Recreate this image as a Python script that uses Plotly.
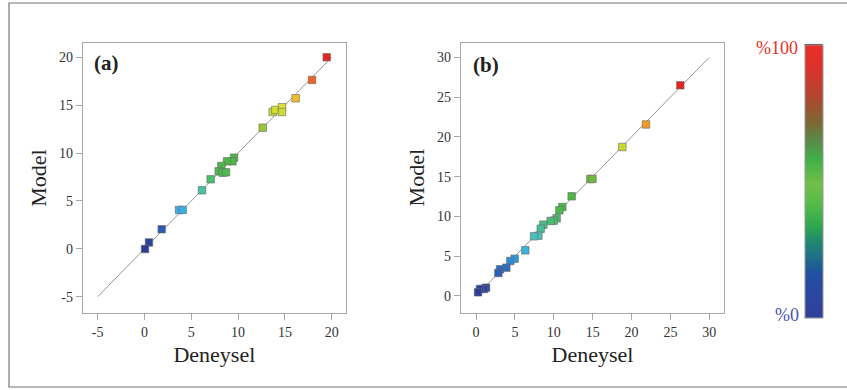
import plotly.graph_objects as go

# Panel (a): experimental vs. model values
deneysel_a = [19.47, 17.90, 16.15, 13.70, 13.98, 14.69, 14.69, 12.63, 9.57, 9.39,
              8.82, 8.21, 7.93, 8.35, 8.71, 7.07, 6.15, 3.69, 4.08, 1.84, 0.48, 0.06]
model_a = [20.00, 17.63, 15.72, 14.29, 14.50, 14.78, 14.29, 12.65, 9.52, 9.14,
           9.14, 8.65, 8.09, 7.95, 7.99, 7.26, 6.11, 4.06, 4.06, 2.04, 0.67, -0.02]

# Panel (b): experimental vs. model values
deneysel_b = [26.27, 21.86, 18.82, 14.70, 14.98, 12.30, 11.10, 10.72, 10.37, 9.99,
              9.60, 8.66, 8.32, 8.02, 7.46, 6.34, 4.97, 4.41, 3.90, 3.09, 2.87,
              1.29, 1.03, 0.51, 0.26]
model_b = [26.48, 21.57, 18.73, 14.70, 14.72, 12.53, 11.19, 10.77, 9.76, 9.47,
           9.43, 8.97, 8.46, 7.58, 7.50, 5.74, 4.69, 4.40, 3.56, 3.35, 2.89,
           1.05, 0.88, 0.88, 0.46]

# Reference y = x lines
line_a = [-5, 20]
line_b = [0, 30]

ticks_a = [-5, 0, 5, 10, 15, 20]
ticklabels_a = ["-5", "0", "5", "10", "15", "20"]
ticks_b = [0, 5, 10, 15, 20, 25, 30]
ticklabels_b = ["0", "5", "10", "15", "20", "25", "30"]

bar_range = [0, 100]
bar_labels = ["%100", "%0"]

W, H = 847, 390

def px_x(p):
    return p / W

def px_y(p):
    return 1 - p / H

rainbow = [
    [0.00, "#2b3a94"], [0.08, "#2e4fa8"], [0.14, "#2f6fc0"], [0.20, "#36aee6"],
    [0.27, "#48c0c8"], [0.33, "#4cbf8a"], [0.40, "#4cb850"], [0.50, "#52b545"],
    [0.58, "#7cbc3c"], [0.66, "#a8cc34"], [0.72, "#d2dc30"], [0.76, "#ece82c"],
    [0.80, "#f2a422"], [0.90, "#ea5524"], [1.00, "#e3261f"],
]

bar_scale = [
    [0.00, "#30409a"], [0.10, "#2a48a0"], [0.16, "#2050a0"], [0.22, "#1e6e88"],
    [0.28, "#208870"], [0.34, "#30a850"], [0.42, "#55bb48"], [0.49, "#70c048"],
    [0.58, "#40b048"], [0.65, "#5a8a48"], [0.71, "#7a6a35"], [0.81, "#b04530"],
    [0.93, "#e03028"], [1.00, "#e8302a"],
]

serif = "Times New Roman, Liberation Serif, serif"
tick_font = dict(family=serif, size=14, color="#333333")
title_font = dict(family=serif, size=22, color="#222222")

fig = go.Figure()

for xs, ys, lx, xa, ya in [
    (deneysel_a, model_a, line_a, "x", "y"),
    (deneysel_b, model_b, line_b, "x2", "y2"),
]:
    fig.add_trace(go.Scatter(
        x=lx, y=lx, mode="lines", xaxis=xa, yaxis=ya,
        line=dict(color="#8a8a8a", width=0.9),
        showlegend=False, hoverinfo="skip",
    ))
    fig.add_trace(go.Scatter(
        x=xs, y=ys, mode="markers", xaxis=xa, yaxis=ya,
        marker=dict(symbol="square", size=7.5, color=ys, colorscale=rainbow,
                    cmin=0, cmax=max(ys), line=dict(color="#6a6a6a", width=0.6)),
        showlegend=False,
    ))

# Colour bar (0 - 100 %)
fig.add_trace(go.Scatter(
    x=[None], y=[None], mode="markers", xaxis="x", yaxis="y",
    marker=dict(color=bar_range, colorscale=bar_scale, cmin=bar_range[0],
                cmax=bar_range[1], showscale=True,
                colorbar=dict(
                    x=px_x(804.7), xanchor="left", xref="paper", xpad=0,
                    y=px_y(181), yanchor="middle", ypad=0,
                    lenmode="pixels", len=272.6,
                    thicknessmode="pixels", thickness=17.6,
                    outlinewidth=1, outlinecolor="#9a9a9a",
                    showticklabels=False, ticks="",
                )),
    showlegend=False, hoverinfo="skip",
))

def axis_common():
    return dict(
        showline=True, mirror=True, linecolor="#a8a8a8", linewidth=1,
        ticks="outside", ticklen=6, tickcolor="#a8a8a8", tickwidth=1,
        showgrid=False, zeroline=False, tickfont=tick_font,
    )

fig.update_layout(
    width=W, height=H,
    margin=dict(l=0, r=0, t=0, b=0),
    paper_bgcolor="white", plot_bgcolor="white",
    xaxis=dict(**axis_common(), domain=[px_x(82.7), px_x(346)], range=[-6.6, 21.53],
               tickvals=ticks_a, ticktext=ticklabels_a, anchor="y",
               title=dict(text="Deneysel", font=title_font, standoff=8)),
    yaxis=dict(**axis_common(), domain=[px_y(312.7), px_y(43.3)], range=[-6.67, 21.46],
               tickvals=ticks_a, ticktext=ticklabels_a, anchor="x",
               title=dict(text="Model", font=title_font, standoff=6)),
    xaxis2=dict(**axis_common(), domain=[px_x(460.7), px_x(724.3)], range=[-1.97, 31.93],
                tickvals=ticks_b, ticktext=ticklabels_b, anchor="y2",
                title=dict(text="Deneysel", font=title_font, standoff=8)),
    yaxis2=dict(**axis_common(), domain=[px_y(312.7), px_y(42.7)], range=[-2.1, 31.84],
                tickvals=ticks_b, ticktext=ticklabels_b, anchor="x2",
                title=dict(text="Model", font=title_font, standoff=6)),
    shapes=[
        # outer frame
        dict(type="rect", xref="paper", yref="paper",
             x0=px_x(9), x1=1.02, y0=px_y(387), y1=px_y(3),
             line=dict(color="#777777", width=1.2)),
        # dark caps of the colour bar
        dict(type="line", xref="paper", yref="paper",
             x0=px_x(804.7), x1=px_x(822.3), y0=px_y(44.7), y1=px_y(44.7),
             line=dict(color="#333333", width=1.5)),
        dict(type="line", xref="paper", yref="paper",
             x0=px_x(804.7), x1=px_x(822.3), y0=px_y(317.3), y1=px_y(317.3),
             line=dict(color="#333333", width=1.5)),
    ],
    annotations=[
        dict(text="<b>(a)</b>", xref="paper", yref="paper", x=px_x(106), y=px_y(63.5),
             xanchor="center", yanchor="middle", showarrow=False,
             font=dict(family=serif, size=21, color="#222222")),
        dict(text="<b>(b)</b>", xref="paper", yref="paper", x=px_x(486), y=px_y(65),
             xanchor="center", yanchor="middle", showarrow=False,
             font=dict(family=serif, size=21, color="#222222")),
        dict(text=bar_labels[0], xref="paper", yref="paper", x=px_x(800), y=px_y(47.5),
             xanchor="right", yanchor="middle", showarrow=False,
             font=dict(family=serif, size=18, color="#e8302a")),
        dict(text=bar_labels[1], xref="paper", yref="paper", x=px_x(800.5), y=px_y(315),
             xanchor="right", yanchor="middle", showarrow=False,
             font=dict(family=serif, size=18, color="#4a55b0")),
    ],
)

fig.write_html("out.html")
